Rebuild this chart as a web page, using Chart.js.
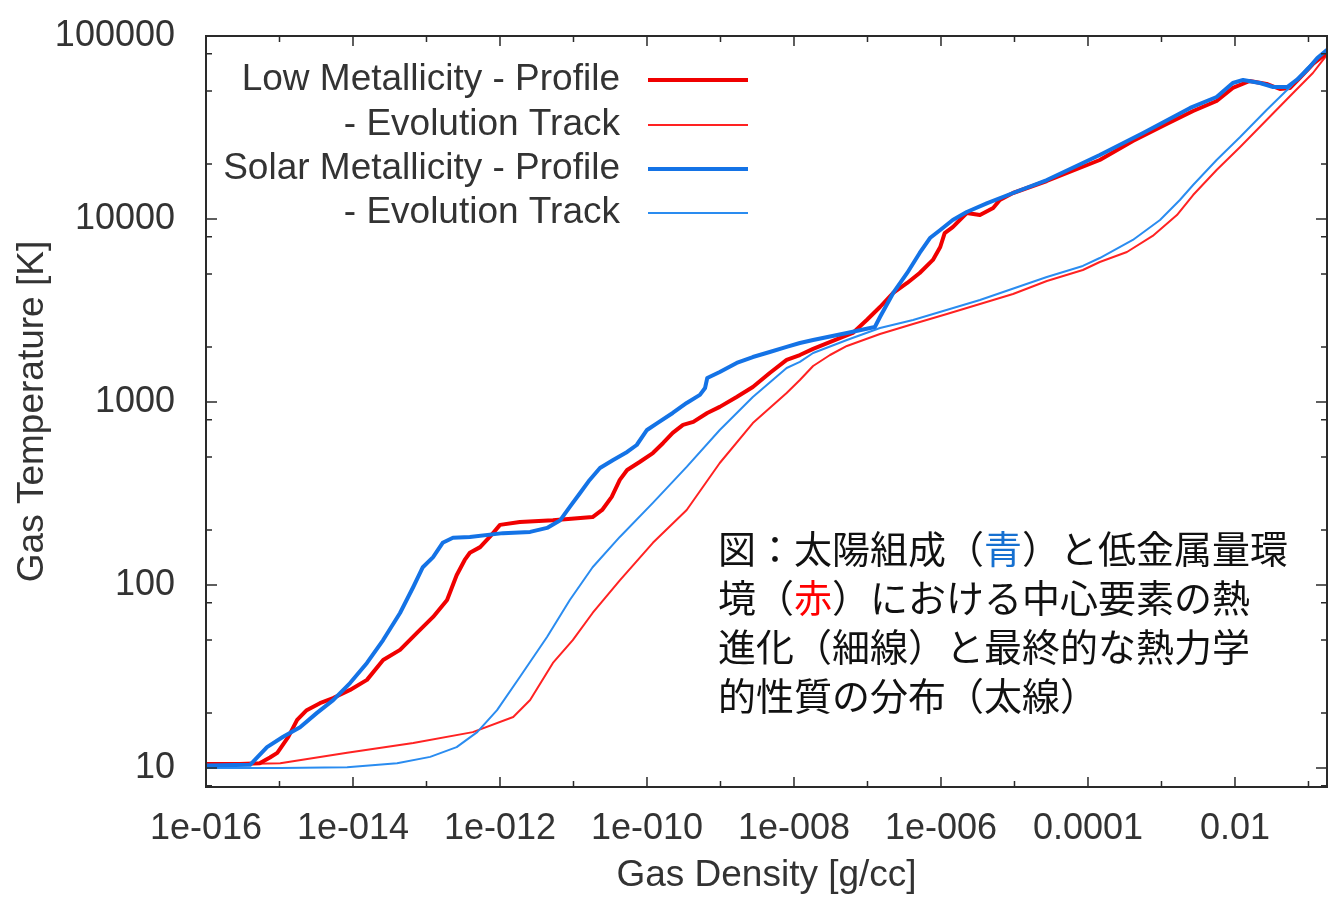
<!DOCTYPE html>
<html>
<head>
<meta charset="utf-8">
<script src="https://cdn.jsdelivr.net/npm/chart.js@4"></script>
<style>
  html, body { margin: 0; background: #fff; }
  #wrap { width: 1329px; height: 898px; position: relative; }
</style>
</head>
<body>
<div id="wrap"><canvas id="chart"></canvas></div>
<script>
// densities are written as exponents (rho = 10^exp g/cc), temperatures in K
const lowProfileRhoExp = [-16.00,-15.54,-15.27,-15.13,-15.03,-14.88,-14.76,-14.63,-14.45,-14.27,-14.04,-13.81,-13.59,-13.36,-13.13,-12.91,-12.72,-12.59,-12.48,-12.41,-12.27,-12.14,-12.00,-11.73,-11.28,-10.74,-10.61,-10.48,-10.37,-10.27,-10.10,-9.92,-9.78,-9.65,-9.51,-9.37,-9.18,-9.01,-8.78,-8.56,-8.33,-8.10,-7.92,-7.74,-7.37,-7.20,-7.01,-6.83,-6.65,-6.46,-6.29,-6.11,-6.01,-5.95,-5.84,-5.65,-5.47,-5.29,-5.20,-5.02,-4.56,-3.84,-3.39,-2.93,-2.57,-2.25,-2.03,-1.80,-1.57,-1.39,-1.25,-1.12,-0.94,-0.75];
const lowProfileTemp = [10.5,10.5,10.6,11.4,12.1,14.8,18.3,20.7,22.6,24.1,26.7,30.3,38.9,44.2,54.7,66.9,82.8,113,137,150,161,183,213,221,226,235,257,303,375,425,470,526,597,678,749,778,871,940,1065,1208,1440,1698,1806,1950,2239,2384,2806,3304,3942,4470,5071,5974,7031,8380,9036,10780,10510,11480,12700,13870,16130,21010,26660,33040,38900,44150,52000,56750,54690,51330,52000,58930,70290,80720];

const lowTrackRhoExp = [-16.00,-14.99,-14.08,-13.18,-12.37,-11.82,-11.59,-11.28,-11.01,-10.74,-10.37,-9.92,-9.46,-9.01,-8.56,-8.10,-7.92,-7.74,-7.51,-7.28,-6.83,-6.38,-5.92,-5.47,-5.02,-4.56,-4.07,-3.84,-3.47,-3.12,-2.79,-2.57,-2.25,-1.93,-1.57,-1.21,-0.94,-0.75];
const lowTrackTemp = [10.4,10.6,12.1,13.7,15.7,19.0,23.5,37.5,50.0,70.3,106,170,257,464,767,1119,1318,1573,1806,2023,2353,2666,3026,3433,3893,4585,5265,5819,6603,8077,10510,13520,18520,24740,34750,48840,62780,78760];

const solarProfileRhoExp = [-16.00,-15.40,-15.17,-14.95,-14.72,-14.49,-14.27,-14.04,-13.81,-13.59,-13.36,-13.18,-13.05,-12.91,-12.78,-12.64,-12.41,-11.96,-11.59,-11.36,-11.18,-11.05,-10.91,-10.78,-10.64,-10.46,-10.27,-10.14,-10.00,-9.86,-9.65,-9.46,-9.28,-9.21,-9.18,-9.01,-8.78,-8.56,-8.33,-8.10,-7.92,-7.74,-7.28,-6.90,-6.83,-6.65,-6.46,-6.29,-6.15,-6.01,-5.84,-5.65,-5.37,-5.02,-4.56,-3.84,-3.25,-2.61,-2.25,-2.03,-1.89,-1.66,-1.48,-1.29,-1.16,-1.02,-0.88,-0.75];
const solarProfileTemp = [10.3,10.4,13.0,14.8,16.7,20.0,23.5,29.1,37.5,50.0,70.3,97.5,125,142,170,181,183,192,195,205,226,267,318,375,436,482,533,582,703,767,871,988,1093,1193,1352,1459,1634,1761,1876,1999,2100,2182,2384,2570,2912,3942,5071,6520,7870,8710,9880,10920,12220,13870,16330,22370,29510,40430,46420,55350,57530,55350,52630,52630,57530,65170,75860,83800];

const solarTrackRhoExp = [-16.00,-14.99,-14.08,-13.40,-12.95,-12.59,-12.31,-12.04,-11.73,-11.36,-11.05,-10.74,-10.37,-9.92,-9.46,-9.01,-8.56,-8.10,-7.92,-7.74,-7.28,-6.83,-6.38,-5.47,-4.56,-4.07,-3.84,-3.39,-3.02,-2.75,-2.57,-2.25,-1.93,-1.57,-1.25,-1.02,-0.75];
const solarTrackTemp = [10.0,10.0,10.1,10.6,11.5,13.0,15.7,20.7,31.4,52.0,82.8,125,183,281,442,703,1065,1534,1655,1853,2182,2535,2806,3606,4821,5537,6120,7680,9880,12700,15340,21010,28050,39430,52630,66840,83800];

const xTickValues = [1e-16, 1e-14, 1e-12, 1e-10, 1e-8, 1e-6, 1e-4, 1e-2];
const xTickLabels = ['1e-016', '1e-014', '1e-012', '1e-010', '1e-008', '1e-006', '0.0001', '0.01'];
const xMinorTicks = [1e-15, 1e-13, 1e-11, 1e-9, 1e-7, 1e-5, 1e-3, 1e-1];
const yTickValues = [10, 100, 1000, 10000, 100000];
const yTickLabels = ['10', '100', '1000', '10000', '100000'];
const yMinorTicks = [8, 20, 50, 80, 200, 500, 800, 2000, 5000, 8000, 20000, 50000, 80000];

const legendLabels = ['Low Metallicity - Profile', '- Evolution Track', 'Solar Metallicity - Profile', '- Evolution Track'];

const BLUE = '#1473e6', RED = '#f00000';
// annotation text, split where the colour changes
const noteLines = [
  [['図：太陽組成（', '#111'], ['青', '#1670d0'], ['）と低金属量環', '#111']],
  [['境（', '#111'], ['赤', '#ff0000'], ['）における中心要素の熱', '#111']],
  [['進化（細線）と最終的な熱力学', '#111']],
  [['的性質の分布（太線）', '#111']],
];

const FONT = "'Liberation Sans', Arial, sans-serif";
const TXT = '#333';

function pts(exps, temps) {
  return exps.map((e, i) => ({ x: Math.pow(10, e), y: temps[i] }));
}

const frameTicks = {
  id: 'frameTicks',
  afterDatasetsDraw(chart) {
    const { ctx, chartArea: a, scales: { x, y } } = chart;
    ctx.save();
    ctx.strokeStyle = '#2a2a2a';
    ctx.lineWidth = 1.5;
    const tx = (v, len) => {
      const p = x.getPixelForValue(v);
      ctx.moveTo(p, a.bottom); ctx.lineTo(p, a.bottom - len);
      ctx.moveTo(p, a.top); ctx.lineTo(p, a.top + len);
    };
    const ty = (v, len) => {
      const p = y.getPixelForValue(v);
      ctx.moveTo(a.left, p); ctx.lineTo(a.left + len, p);
      ctx.moveTo(a.right, p); ctx.lineTo(a.right - len, p);
    };
    ctx.beginPath();
    xTickValues.forEach(v => tx(v, 10));
    xMinorTicks.forEach(v => tx(v, 6));
    yTickValues.forEach(v => ty(v, 11));
    yMinorTicks.forEach(v => ty(v, 6));
    ctx.stroke();
    ctx.lineWidth = 2;
    ctx.strokeRect(a.left, a.top, a.right - a.left, a.bottom - a.top);
    ctx.restore();
  },
  afterDraw(chart) {
    const { ctx } = chart;
    ctx.save();
    // legend: right-aligned labels followed by line samples
    const rows = [80, 125, 169, 213];
    ctx.font = '37px ' + FONT;
    ctx.textAlign = 'right';
    ctx.textBaseline = 'middle';
    chart.data.datasets.forEach((ds, i) => {
      ctx.fillStyle = TXT;
      ctx.fillText(legendLabels[i], 620, rows[i]);
      ctx.strokeStyle = ds.borderColor;
      ctx.lineWidth = ds.borderWidth;
      ctx.beginPath();
      ctx.moveTo(648, rows[i]); ctx.lineTo(748, rows[i]);
      ctx.stroke();
    });
    // Japanese note
    ctx.font = "38px 'Noto Sans CJK JP', sans-serif";
    ctx.textAlign = 'left';
    const noteY = [549, 598, 647, 696];
    noteLines.forEach((parts, i) => {
      let cx = 718;
      parts.forEach(([t, c]) => {
        ctx.fillStyle = c;
        ctx.fillText(t, cx, noteY[i]);
        cx += ctx.measureText(t).width;
      });
    });
    ctx.restore();
  }
};

new Chart(document.getElementById('chart'), {
  type: 'line',
  data: {
    datasets: [
      { label: legendLabels[0], data: pts(lowProfileRhoExp, lowProfileTemp), borderColor: RED, borderWidth: 4, order: 2 },
      { label: legendLabels[1], data: pts(lowTrackRhoExp, lowTrackTemp), borderColor: '#ff2222', borderWidth: 2, order: 3 },
      { label: legendLabels[2], data: pts(solarProfileRhoExp, solarProfileTemp), borderColor: BLUE, borderWidth: 4, order: 0 },
      { label: legendLabels[3], data: pts(solarTrackRhoExp, solarTrackTemp), borderColor: '#2a8cf0', borderWidth: 2, order: 1 },
    ]
  },
  options: {
    responsive: true,
    maintainAspectRatio: false,
    animation: false,
    devicePixelRatio: 1,
    layout: { padding: { top: 36, right: 2, left: 0, bottom: 0 } },
    elements: { point: { radius: 0 }, line: { tension: 0, borderJoinStyle: 'round', borderCapStyle: 'round' } },
    plugins: { legend: { display: false }, tooltip: { enabled: false } },
    scales: {
      x: {
        type: 'logarithmic',
        min: 1e-16,
        max: 0.1786,
        grid: { display: false, drawTicks: false },
        border: { display: false },
        afterBuildTicks: s => { s.ticks = xTickValues.map(v => ({ value: v })); },
        afterFit: s => { s.height = 111; s.paddingLeft = 0; s.paddingRight = 0; },
        ticks: {
          autoSkip: false, maxRotation: 0, padding: 20,
          color: TXT, font: { family: FONT, size: 36 },
          callback: (v, i) => xTickLabels[i]
        },
        title: { display: true, text: 'Gas Density [g/cc]', color: TXT, font: { family: FONT, size: 37 }, padding: { top: 0, bottom: 0 } }
      },
      y: {
        type: 'logarithmic',
        min: 7.87,
        max: 100000,
        grid: { display: false, drawTicks: false },
        border: { display: false },
        afterBuildTicks: s => { s.ticks = yTickValues.map(v => ({ value: v })); },
        afterFit: s => { s.width = 206; s.paddingTop = 0; s.paddingBottom = 0; },
        ticks: {
          autoSkip: false, padding: 31,
          color: TXT, font: { family: FONT, size: 36 },
          callback: (v, i) => yTickLabels[i]
        },
        title: { display: true, text: 'Gas Temperature [K]', color: TXT, font: { family: FONT, size: 37 }, padding: { top: 11, bottom: 0 } }
      }
    }
  },
  plugins: [frameTicks]
});
</script>
</body>
</html>
